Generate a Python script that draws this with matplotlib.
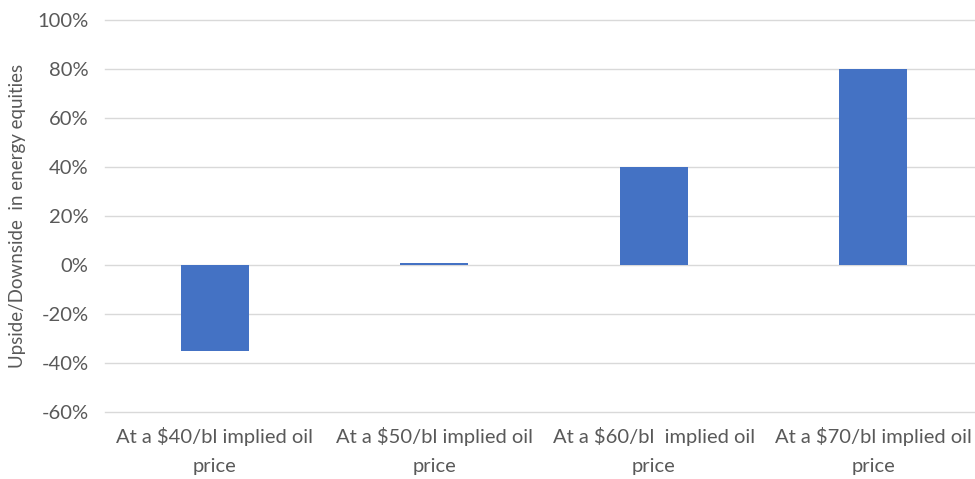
import matplotlib
matplotlib.use("Agg")
from matplotlib import pyplot as plt
from matplotlib.ticker import FuncFormatter

# upside/downside at each implied oil price
categories = ["At a $40/bl implied oil\nprice",
              "At a $50/bl implied oil\nprice",
              "At a $60/bl  implied oil\nprice",
              "At a $70/bl implied oil\nprice"]
upside = [-35, 1, 40, 80]
yticks = [-60, -40, -20, 0, 20, 40, 60, 80, 100]

plt.rcParams['font.family'] = ['Lato', 'DejaVu Sans']
text_color = '#595959'

fig = plt.figure(figsize=(9.75, 4.79), dpi=100)
ax = fig.add_axes([105.3 / 975, 1 - 412 / 479, 1 - 105.3 / 975, (412 - 20) / 479])

x = range(len(categories))
ax.bar(x, upside, width=0.31, color='#4472C4', zorder=3)

ax.set_ylim(-60, 100)
ax.set_xlim(-0.5, 3.465)
ax.set_yticks(yticks)
ax.yaxis.set_major_formatter(FuncFormatter(lambda v, p: f"{v:.0f}%"))
ax.set_xticks(list(x))
ax.set_xticklabels(categories, linespacing=1.85)
ax.grid(axis='y', color='#D9D9D9', linewidth=1, zorder=0)
for g in ax.get_ygridlines():
    g.set_clip_on(False)
for s in ax.spines.values():
    s.set_visible(False)
ax.tick_params(length=0, labelsize=14.5, colors=text_color)
ax.tick_params(axis='x', pad=11)
ax.tick_params(axis='y', pad=12)
ax.set_ylabel("Upside/Downside  in energy equities", fontsize=13.5, color=text_color, labelpad=8)

fig.savefig("out.png", dpi=100)
